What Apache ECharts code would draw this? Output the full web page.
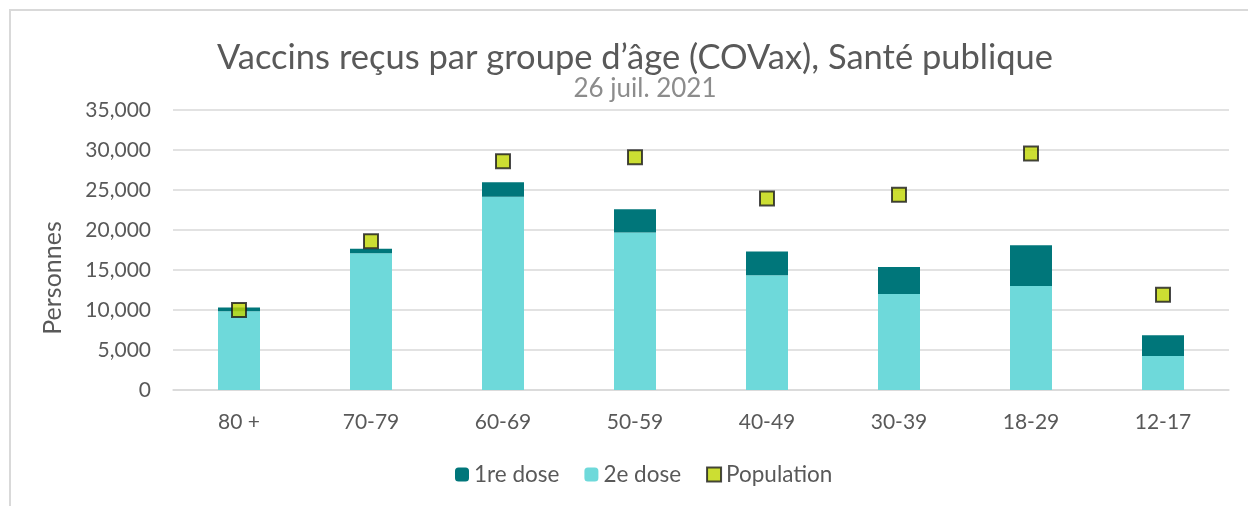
<!DOCTYPE html>
<html>
<head>
<meta charset="utf-8">
<script src="https://cdn.jsdelivr.net/npm/echarts@6/dist/echarts.min.js"></script>
<style>
  html, body { margin: 0; padding: 0; background: #fff; }
  #chart { width: 1248px; height: 506px; }
</style>
</head>
<body>
<div id="chart"></div>
<script>
var categories = ['80 +', '70-79', '60-69', '50-59', '40-49', '30-39', '18-29', '12-17'];
var dose2 = [9850, 17100, 24150, 19700, 14330, 12000, 13000, 4250];
var dose1 = [450, 560, 1810, 2900, 2970, 3370, 5080, 2580];
var population = [10000, 18600, 28600, 29100, 23950, 24400, 29550, 11900];

var myChart = echarts.init(document.getElementById('chart'));
var font = 'Lato, "Open Sans", sans-serif';
option = {
    textStyle: { fontFamily: font },
    title: [
        {
            text: 'Vaccins reçus par groupe d’âge (COVax), Santé publique',
            left: 630,
            top: 35,
            textAlign: 'center',
            textStyle: { fontFamily: font, fontSize: 34.5, fontWeight: 'normal', color: '#595959' }
        },
        {
            text: '26 juil. 2021',
            left: 640,
            top: 71,
            textAlign: 'center',
            textStyle: { fontFamily: font, fontSize: 26, fontWeight: 'normal', color: '#8c8c8c' }
        }
    ],
    graphic: [{
        type: 'rect',
        shape: { x: 10, y: 10, width: 1260, height: 520 },
        style: { fill: 'none', stroke: '#d9d9d9', lineWidth: 2 },
        silent: true
    }],
    legend: {
        bottom: 15,
        left: 450,
        itemWidth: 14,
        itemHeight: 14,
        itemGap: 25,
        textStyle: { fontFamily: font, fontSize: 22.5, color: '#595959' },
        data: ['1re dose', '2e dose', 'Population']
    },
    grid: { left: 173, right: 19, top: 110, bottom: 116 },
    xAxis: {
        type: 'category',
        data: categories,
        axisTick: { show: false },
        axisLine: { lineStyle: { color: '#d9d9d9', width: 1.5 } },
        axisLabel: { fontSize: 21, color: '#595959', margin: 22 }
    },
    yAxis: {
        type: 'value',
        min: 0,
        max: 35000,
        interval: 5000,
        name: 'Personnes',
        nameLocation: 'middle',
        nameGap: 108,
        nameRotate: 90,
        nameTextStyle: { fontSize: 25, color: '#595959', padding: [0, 56, 0, 0] },
        axisLine: { show: false },
        axisTick: { show: false },
        axisLabel: {
            fontSize: 21, color: '#595959', margin: 22,
            formatter: function (v) { return v.toLocaleString('en-US'); }
        },
        splitLine: { lineStyle: { color: '#d9d9d9', width: 1.5 } }
    },
    series: [
        {
            name: '2e dose',
            type: 'bar',
            stack: 'doses',
            barWidth: 42,
            itemStyle: { color: '#6ed9da' },
            data: dose2
        },
        {
            name: '1re dose',
            type: 'bar',
            stack: 'doses',
            barWidth: 42,
            itemStyle: { color: '#00767a' },
            data: dose1
        },
        {
            name: 'Population',
            type: 'scatter',
            symbol: 'rect',
            symbolSize: 14,
            itemStyle: { color: '#bfd600', borderColor: '#1a1a1a', borderWidth: 2 },
            z: 5,
            data: population
        }
    ]
};
myChart.setOption(option);
</script>
</body>
</html>
